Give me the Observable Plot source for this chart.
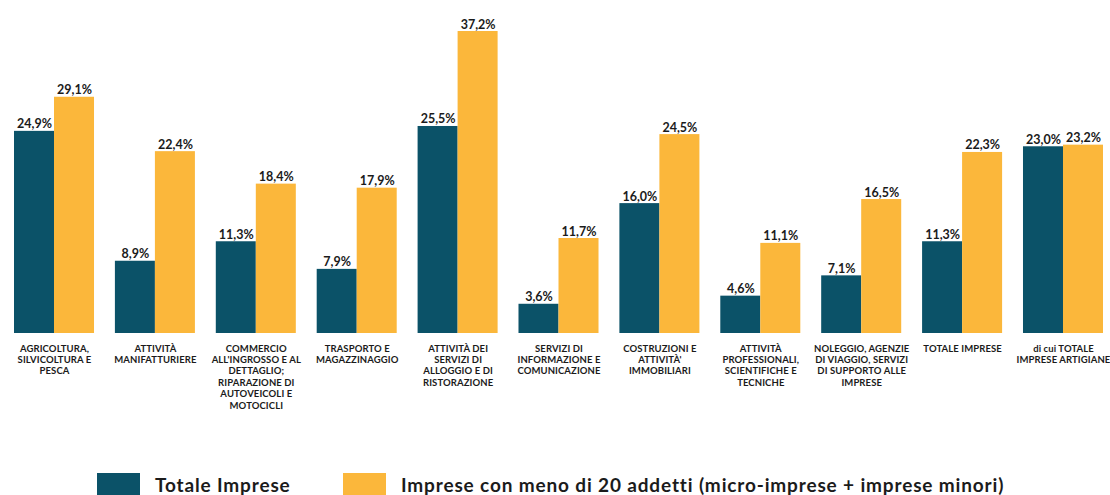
<!DOCTYPE html>
<html>
<head>
<meta charset="utf-8">
<script src="https://cdn.jsdelivr.net/npm/d3@7"></script>
<script src="https://cdn.jsdelivr.net/npm/@observablehq/plot@0.6"></script>
<style>
  html, body { margin: 0; padding: 0; background: #fff; }
  body { width: 1110px; height: 495px; position: relative; overflow: hidden; font-family: Lato, "Open Sans", sans-serif; }
  #chart { position: absolute; left: 0; top: 0; }
  #chart svg [aria-label="fx-axis tick label"] text { font-weight: 700; letter-spacing: 0.1px; }
  .legend { position: absolute; left: 0; top: 473px; width: 1110px; height: 22px; }
  .item { position: absolute; top: 0; display: flex; align-items: center; height: 22px; }
  .sw { width: 43px; height: 22px; margin-right: 15px; }
  .lab { font-size: 19px; font-weight: 700; color: #1b1b1b; white-space: nowrap; letter-spacing: 0.85px; }
</style>
</head>
<body>
<div id="chart"></div>
<div class="legend">
  <div class="item" style="left:97px"><div class="sw" style="background:#0b5268"></div><span class="lab">Totale Imprese</span></div>
  <div class="item" style="left:343px"><div class="sw" style="background:#fbb73b"></div><span class="lab">Imprese con meno di 20 addetti (micro-imprese + imprese minori)</span></div>
</div>
<script>
const categories = [
  "AGRICOLTURA,\nSILVICOLTURA E\nPESCA",
  "ATTIVITÀ\nMANIFATTURIERE",
  "COMMERCIO\nALL'INGROSSO E AL\nDETTAGLIO;\nRIPARAZIONE DI\nAUTOVEICOLI E\nMOTOCICLI",
  "TRASPORTO E\nMAGAZZINAGGIO",
  "ATTIVITÀ DEI\nSERVIZI DI\nALLOGGIO E DI\nRISTORAZIONE",
  "SERVIZI DI\nINFORMAZIONE E\nCOMUNICAZIONE",
  "COSTRUZIONI E\nATTIVITÀ'\nIMMOBILIARI",
  "ATTIVITÀ\nPROFESSIONALI,\nSCIENTIFICHE E\nTECNICHE",
  "NOLEGGIO, AGENZIE\nDI VIAGGIO, SERVIZI\nDI SUPPORTO ALLE\nIMPRESE",
  "TOTALE IMPRESE",
  "di cui TOTALE\nIMPRESE ARTIGIANE"
];
const seriesNames = ["Totale Imprese", "Imprese con meno di 20 addetti (micro-imprese + imprese minori)"];
const totaleImprese = [24.9, 8.9, 11.3, 7.9, 25.5, 3.6, 16.0, 4.6, 7.1, 11.3, 23.0];
const impreseMeno20 = [29.1, 22.4, 18.4, 17.9, 37.2, 11.7, 24.5, 11.1, 16.5, 22.3, 23.2];
const colors = ["#0b5268", "#fbb73b"];

const data = [];
categories.forEach((c, i) => {
  data.push({cat: c, series: seriesNames[0], value: totaleImprese[i]});
  data.push({cat: c, series: seriesNames[1], value: impreseMeno20[i]});
});
const fmt = v => v.toFixed(1).replace(".", ",") + "%";

const chart = Plot.plot({
  width: 1110,
  height: 420,
  marginLeft: 14,
  marginRight: 7,
  marginTop: 31,
  marginBottom: 87,
  style: {fontFamily: "Lato, 'Open Sans', sans-serif", color: "#1b1b1b", background: "#fff"},
  fx: {domain: categories, paddingInner: 0.207, paddingOuter: 0, round: false, label: null},
  x: {domain: seriesNames, padding: 0, round: false, axis: null},
  y: {domain: [0, 37.2], axis: null},
  color: {domain: seriesNames, range: colors},
  marks: [
    Plot.barY(data, {fx: "cat", x: "series", y: "value", fill: "series"}),
    Plot.text(data, {fx: "cat", x: "series", y: "value", text: d => fmt(d.value), lineAnchor: "bottom", dy: -3, fontSize: 12.5, fontWeight: 700, fill: "#1b1b1b"}),
    Plot.axisFx({anchor: "bottom", tickSize: 0, tickPadding: 10, fontSize: 9.5, lineHeight: 1.2, label: null, fill: "#1b1b1b"})
  ]
});
document.getElementById("chart").appendChild(chart);
</script>
</body>
</html>
